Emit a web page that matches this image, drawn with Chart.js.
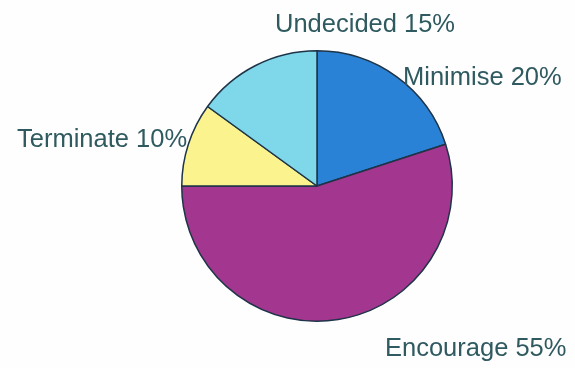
<!DOCTYPE html>
<html>
<head>
<meta charset="utf-8">
<script src="https://cdn.jsdelivr.net/npm/chart.js@4.4.1/dist/chart.umd.min.js"></script>
<style>
  html, body { margin: 0; padding: 0; background: #fefefe; }
  #wrap { width: 575px; height: 368px; }
</style>
</head>
<body>
<div id="wrap"><canvas id="myChart" width="575" height="368"></canvas></div>
<script>
// Slices, clockwise from 12 o'clock
const categories = ['Minimise', 'Encourage', 'Terminate', 'Undecided'];
const shares = [20, 55, 10, 15];
const sliceColors = ['#2a82d6', '#a3368e', '#fbf38e', '#7fd8ea'];

// Where each text label sits (left x, baseline y)
const labelSpots = [
  [403, 85],
  [385, 356],
  [17, 147],
  [275, 32]
];

const canvas = document.getElementById('myChart');
const ctx = canvas.getContext('2d');

// Draws "Name NN%" next to each slice
const sliceLabels = {
  id: 'sliceLabels',
  afterDraw(chart) {
    const c = chart.ctx;
    const ds = chart.data.datasets[0];
    c.save();
    c.font = '25.5px "Liberation Sans", Arial, sans-serif';
    c.fillStyle = '#2f5a60';
    c.textAlign = 'left';
    c.textBaseline = 'alphabetic';
    chart.data.labels.forEach((name, i) => {
      const pos = labelSpots[i];
      c.fillText(name + ' ' + ds.data[i] + '%', pos[0], pos[1]);
    });
    c.restore();
  }
};

const myChart = new Chart(ctx, {
  type: 'pie',
  data: {
    labels: categories,
    datasets: [{
      data: shares,
      backgroundColor: sliceColors,
      borderColor: '#1e3448',
      borderWidth: 1.5
    }]
  },
  options: {
    responsive: false,
    animation: false,
    layout: {
      padding: { left: 181, right: 122, top: 50, bottom: 46 }
    },
    plugins: {
      legend: { display: false },
      tooltip: { enabled: false }
    }
  },
  plugins: [sliceLabels]
});
</script>
</body>
</html>
